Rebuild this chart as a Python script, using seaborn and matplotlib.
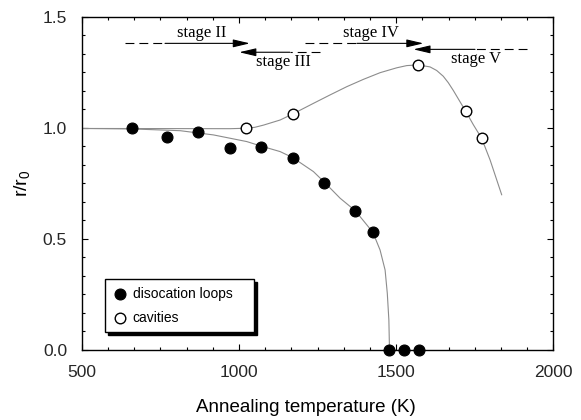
import numpy as np
import pandas as pd
import matplotlib
matplotlib.use("Agg")
import matplotlib.pyplot as plt
import seaborn as sns
from matplotlib.ticker import MultipleLocator

# ---------------- data ----------------
loops_T = [660, 772, 871, 973, 1070, 1171, 1272, 1370, 1426, 1477, 1525, 1574]
loops_r = [0.998, 0.960, 0.982, 0.908, 0.915, 0.865, 0.753, 0.627, 0.530, 0.0, 0.0, 0.0]

cav_T = [1022, 1171, 1571, 1722, 1772]
cav_r = [0.997, 1.062, 1.282, 1.076, 0.952]

# guide curves
loops_curve_T = [500, 659, 813, 919, 1025, 1070, 1131, 1171, 1237, 1272, 1322,
                 1370, 1426, 1449, 1465, 1472, 1477, 1479]
loops_curve_r = [0.997, 0.995, 0.987, 0.968, 0.938, 0.918, 0.893, 0.866, 0.803,
                 0.755, 0.683, 0.627, 0.530, 0.450, 0.360, 0.255, 0.135, 0.0]

cav_curve_T = [500, 972, 1022, 1050, 1078, 1131, 1171, 1237, 1290, 1343, 1396,
               1449, 1502, 1534, 1571, 1608, 1629, 1650, 1666, 1682, 1703, 1722,
               1746, 1772, 1799, 1836]
cav_curve_r = [0.997, 0.996, 0.998, 1.002, 1.012, 1.035, 1.062, 1.110, 1.148,
               1.185, 1.218, 1.248, 1.270, 1.280, 1.283, 1.274, 1.258, 1.232,
               1.203, 1.168, 1.118, 1.073, 1.013, 0.953, 0.855, 0.698]

series_names = ["disocation loops", "cavities"]

stage_labels = ["stage II", "stage III", "stage IV", "stage V"]
stage_label_T = [882, 1143, 1419, 1753]
stage_label_r = [1.425, 1.297, 1.425, 1.308]
stage_dash_from = [638, 1258, 1210, 1916]
stage_solid_from = [765, 1162, 1375, 1751]
stage_arrow_to = [1035, 1001, 1587, 1555]
stage_arrow_r = [1.380, 1.340, 1.380, 1.353]

x_ticks = [500, 1000, 1500, 2000]
y_ticks = [0.0, 0.5, 1.0, 1.5]

# ---------------- style ----------------
sns.set_theme(style="ticks")
plt.rcParams["font.family"] = ["Liberation Sans", "DejaVu Sans"]
plt.rcParams["mathtext.fontset"] = "custom"
plt.rcParams["mathtext.rm"] = "Liberation Sans"
plt.rcParams["mathtext.it"] = "Liberation Sans"

fig = plt.figure(figsize=(5.81, 4.20), dpi=100)
ax = fig.add_axes([81.7 / 581, 70 / 420, 471.6 / 581, 333.3 / 420])

curve_color = "#8c8c8c"
loops_curve = pd.DataFrame({"T": loops_curve_T, "r": loops_curve_r})
cav_curve = pd.DataFrame({"T": cav_curve_T, "r": cav_curve_r})
sns.lineplot(data=loops_curve, x="T", y="r", sort=False, estimator=None,
             color=curve_color, lw=0.8, ax=ax, zorder=2)
sns.lineplot(data=cav_curve, x="T", y="r", sort=False, estimator=None,
             color=curve_color, lw=0.8, ax=ax, zorder=2)

loops_df = pd.DataFrame({"T": loops_T, "r": loops_r})
cav_df = pd.DataFrame({"T": cav_T, "r": cav_r})
sns.scatterplot(data=loops_df, x="T", y="r", s=62, color="black",
                edgecolor="black", linewidth=0.8, label=series_names[0],
                ax=ax, zorder=4, clip_on=False)
sns.scatterplot(data=cav_df, x="T", y="r", s=58, facecolor="white",
                edgecolor="black", linewidth=1.0, label=series_names[1],
                ax=ax, zorder=4, clip_on=False)

# stage arrows
for lab, lx, ly, d0, s0, tip, ay in zip(stage_labels, stage_label_T, stage_label_r,
                                         stage_dash_from, stage_solid_from,
                                         stage_arrow_to, stage_arrow_r):
    ax.plot([d0, s0], [ay, ay], color="black", lw=0.8, dashes=(8, 4.5), zorder=3)
    ax.annotate("", xy=(tip, ay), xytext=(s0, ay),
                arrowprops=dict(arrowstyle="-|>,head_length=0.85,head_width=0.2",
                                color="black", lw=0.8, shrinkA=0, shrinkB=0),
                zorder=3)
    ax.text(lx, ly, lab, ha="center", va="center", fontsize=12,
            family=["Liberation Serif", "DejaVu Serif"], color="black")

# axes
ax.set_xlim(500, 2000)
ax.set_ylim(0, 1.5)
ax.set_xticks(x_ticks)
ax.set_yticks(y_ticks)
ax.set_yticklabels([f"{v:.1f}" for v in y_ticks])
ax.xaxis.set_minor_locator(MultipleLocator(500 / 6))
ax.yaxis.set_minor_locator(MultipleLocator(0.5 / 6))
ax.tick_params(which="both", direction="in", top=True, right=True,
               color="black", width=0.8)
ax.tick_params(which="major", length=4.5, labelsize=12.5)
ax.tick_params(which="minor", length=2.5)
ax.tick_params(axis="x", which="major", pad=10.5)
ax.tick_params(axis="y", which="major", pad=10.5)
for sp in ax.spines.values():
    sp.set_color("black")
    sp.set_linewidth(1.0)

ax.set_xlabel("Annealing temperature (K)", fontsize=13.5, color="black")
ax.xaxis.label.set_va("center")
ax.xaxis.set_label_coords((306 - 81.7) / 471.6, (350 - 408) / 333.3)
ax.set_ylabel(r"r/r$_\mathregular{0}$", fontsize=14, color="black")
ax.yaxis.label.set_va("center")
ax.yaxis.set_label_coords((22 - 81.7) / 471.6, 0.5)

leg = ax.legend(loc="upper left",
                bbox_to_anchor=((105 - 81.7) / 471.6, 0.0, 149 / 471.6,
                                (350 - 279.3) / 333.3),
                mode="expand", borderaxespad=0, fontsize=10, frameon=True,
                fancybox=False, framealpha=1, edgecolor="black",
                shadow={"color": "black", "alpha": 1.0},
                borderpad=0.55, labelspacing=0.7, handlelength=1.0,
                handletextpad=0.45)
leg.get_frame().set_linewidth(1.0)
for t in leg.get_texts():
    t.set_color("black")

fig.savefig("out.png", dpi=100)
